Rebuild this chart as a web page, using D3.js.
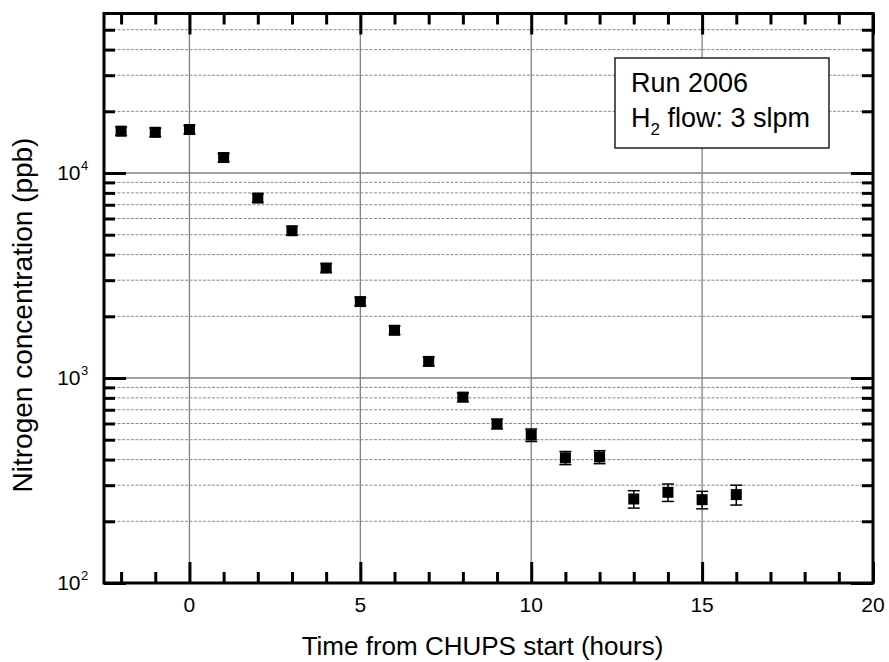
<!DOCTYPE html>
<html><head><meta charset="utf-8">
<script src="https://cdn.jsdelivr.net/npm/d3@7"></script>
<style>
html,body{margin:0;padding:0;background:#fff;}
svg text{font-family:Arial,"Liberation Sans",sans-serif;fill:#000;}
</style></head>
<body><svg id="chart" width="889" height="662"></svg>
<script>
const hours = [-2,-1,0,1,2,3,4,5,6,7,8,9,10,11,12,13,14,15,16];
const nitrogen = [16000,15800,16300,11900,7550,5230,3440,2360,1710,1205,807,597,527,408,412,257,277,255,270];
const nitrogenErr = [750,750,780,560,360,250,165,110,80,58,40,32,37,30,30,25,27,25,30];
const xMajorTicks = [0,5,10,15,20];
const xMinorTicks = [-2,-1,1,2,3,4,6,7,8,9,11,12,13,14,16,17,18,19];
const yMajorTicks = [100,1000,10000];
const yExponents = ["2","3","4"];
const yMinorTicks = [200,300,400,500,600,700,800,900,2000,3000,4000,5000,6000,7000,8000,9000,20000,30000,40000,50000];
const xTitle = "Time from CHUPS start (hours)";
const yTitle = "Nitrogen concentration (ppb)";
const legendLines = ["Run 2006", "flow: 3 slpm"];

const svg = d3.select("#chart");
const L = 104, R = 873, T = 13.5, B = 583;
const x = d3.scaleLinear().domain([-2.5, 20]).range([L, R]);
const y = d3.scaleLog().domain([100, 60000]).range([B, T]);

// grid
const g = svg.append("g");
g.selectAll(".ymin").data(yMinorTicks).join("line")
  .attr("x1", L).attr("x2", R).attr("y1", d => y(d)).attr("y2", d => y(d))
  .attr("stroke", "#8a8a8a").attr("stroke-width", 1).attr("stroke-dasharray", "3,1.5");
g.selectAll(".ymaj").data(yMajorTicks.filter(d => d > 100)).join("line")
  .attr("x1", L).attr("x2", R).attr("y1", d => y(d)).attr("y2", d => y(d))
  .attr("stroke", "#808080").attr("stroke-width", 1.3);
g.selectAll(".xmaj").data(xMajorTicks.filter(d => d < 20)).join("line")
  .attr("y1", T).attr("y2", B).attr("x1", d => x(d)).attr("x2", d => x(d))
  .attr("stroke", "#808080").attr("stroke-width", 1.3);

// axes using d3 axis generators (ticks inward)
function noText(sel){ sel.selectAll("text").remove(); sel.select(".domain").remove(); sel.selectAll("line").attr("stroke","#000").attr("stroke-width",3); }
svg.append("g").attr("transform", `translate(0,${B})`)
  .call(d3.axisBottom(x).tickValues(xMajorTicks).tickSizeInner(-21).tickSizeOuter(0)).call(noText);
svg.append("g").attr("transform", `translate(0,${B})`)
  .call(d3.axisBottom(x).tickValues(xMinorTicks).tickSizeInner(-11).tickSizeOuter(0)).call(noText);
svg.append("g").attr("transform", `translate(0,${T})`)
  .call(d3.axisTop(x).tickValues(xMajorTicks).tickSizeInner(-21).tickSizeOuter(0)).call(noText);
svg.append("g").attr("transform", `translate(0,${T})`)
  .call(d3.axisTop(x).tickValues(xMinorTicks).tickSizeInner(-11).tickSizeOuter(0)).call(noText);
svg.append("g").attr("transform", `translate(${L},0)`)
  .call(d3.axisLeft(y).tickValues(yMajorTicks).tickSizeInner(-22).tickSizeOuter(0)).call(noText);
svg.append("g").attr("transform", `translate(${L},0)`)
  .call(d3.axisLeft(y).tickValues(yMinorTicks).tickSizeInner(-11).tickSizeOuter(0)).call(noText);
svg.append("g").attr("transform", `translate(${R},0)`)
  .call(d3.axisRight(y).tickValues(yMajorTicks).tickSizeInner(-22).tickSizeOuter(0)).call(noText);
svg.append("g").attr("transform", `translate(${R},0)`)
  .call(d3.axisRight(y).tickValues(yMinorTicks).tickSizeInner(-11).tickSizeOuter(0)).call(noText);

// frame
svg.append("rect").attr("x", L).attr("y", T).attr("width", R - L).attr("height", B - T)
  .attr("fill", "none").attr("stroke", "#000").attr("stroke-width", 3);

// x tick labels
svg.selectAll(".xl").data(xMajorTicks).join("text")
  .attr("x", d => x(d)).attr("y", 612).attr("text-anchor", "middle")
  .attr("font-size", 21).text(d => d);

// y tick labels
yMajorTicks.forEach((d, i) => {
  const yy = y(d) + 7;
  svg.append("text").attr("x", 80.5).attr("y", yy).attr("text-anchor", "end")
    .attr("font-size", 21).text("10");
  svg.append("text").attr("x", 81).attr("y", yy - 10).attr("text-anchor", "start")
    .attr("font-size", 13).text(yExponents[i]);
});

// axis titles
svg.append("text").attr("x", 482.5).attr("y", 655).attr("text-anchor", "middle")
  .attr("font-size", 26).text(xTitle);
svg.append("text").attr("transform", "translate(32,315) rotate(-90)")
  .attr("text-anchor", "middle").attr("font-size", 28).text(yTitle);

// error bars
const eb = svg.append("g").attr("stroke", "#000").attr("stroke-width", 1.5);
hours.forEach((h, i) => {
  const cx = x(h), y1 = y(nitrogen[i] + nitrogenErr[i]), y0 = y(nitrogen[i] - nitrogenErr[i]);
  eb.append("line").attr("x1", cx).attr("x2", cx).attr("y1", y1).attr("y2", y0);
  eb.append("line").attr("x1", cx - 6).attr("x2", cx + 6).attr("y1", y1).attr("y2", y1);
  eb.append("line").attr("x1", cx - 6).attr("x2", cx + 6).attr("y1", y0).attr("y2", y0);
});

// markers
svg.selectAll(".pt").data(hours).join("rect")
  .attr("x", d => x(d) - 5.5).attr("y", (d, i) => y(nitrogen[i]) - 5.5)
  .attr("width", 11).attr("height", 11).attr("fill", "#000");

// legend box
svg.append("rect").attr("x", 615).attr("y", 58).attr("width", 214).attr("height", 90)
  .attr("fill", "#fff").attr("stroke", "#000").attr("stroke-width", 1.3);
svg.append("text").attr("x", 631).attr("y", 92).attr("font-size", 27).text(legendLines[0]);
const t2 = svg.append("text").attr("x", 631).attr("y", 127).attr("font-size", 27);
t2.append("tspan").text("H");
t2.append("tspan").attr("font-size", 17).attr("dy", 8).text("2");
t2.append("tspan").attr("dy", -8).text(" " + legendLines[1]);
</script>
</body></html>
